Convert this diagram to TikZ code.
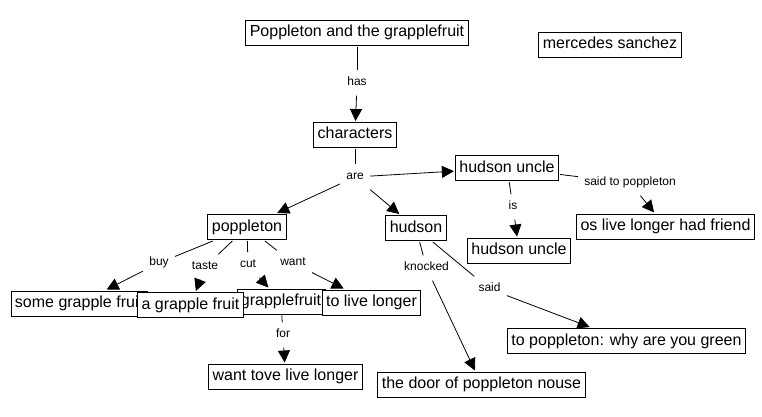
\documentclass[tikz,border=0pt]{standalone}
\usepackage{fontspec}
\setmainfont{Liberation Sans}
\usepackage{tikz}
\usetikzlibrary{arrows.meta, positioning}
\tikzset{
  concept/.style={draw, fill=white, font=\fontsize{16}{19}\selectfont,
    inner xsep=4pt, inner ysep=5pt, text height=11.5pt, text depth=3.5pt, outer sep=1.5pt},
  linkword/.style={font=\fontsize{12}{14}\selectfont,
    inner xsep=6pt, inner ysep=7pt, text height=8pt, text depth=2.5pt}
}
\begin{document}
\begin{tikzpicture}[x=1pt, y=-1pt, on grid, line width=0.8pt,
    >={Triangle[length=12pt,width=12pt]}]
    \useasboundingbox (0,0) rectangle (762,417);
    \node[concept] (title) at (357,33) {Poppleton and the grapplefruit};
    \node[concept] (author) [below right=12pt and 253pt of title] {mercedes sanchez};
    \node[linkword] (has) [below=50pt of title] {has};
    \node[concept] (characters) [below left=52pt and 2pt of has] {characters};
    \node[linkword] (are) [below=42pt of characters] {are};
    \node[concept] (hudsonuncle) [above right=9pt and 152pt of are] {hudson uncle};
    \node[concept] (poppleton) [below left=50pt and 108pt of are] {poppleton};
    \node[concept] (hudson) [below right=51pt and 61pt of are] {hudson};
    \node[linkword] (saidto) [below right=15pt and 123pt of hudsonuncle] {said to poppleton};
    \node[concept] (friend) [below right=43.5pt and 35.5pt of saidto] {os live longer had friend};
    \node[linkword] (is) [below right=39pt and 6pt of hudsonuncle] {is};
    \node[concept] (uncle) [below right=43.5pt and 6pt of is] {hudson uncle};
    \node[linkword] (knocked) [below right=40pt and 10.5pt of hudson] {knocked};
    \node[linkword] (said) [below right=61pt and 73.5pt of hudson] {said};
    \node[concept] (green) [below right=52pt and 137pt of said] {to poppleton: why are you green};
    \node[concept] (door) [below right=116.5pt and 55pt of knocked] {the door of poppleton nouse};
    \node[linkword] (buy) [below left=36pt and 88pt of poppleton] {buy};
    \node[linkword] (taste) [below left=40pt and 42pt of poppleton] {taste};
    \node[linkword] (cut) [below right=38pt and 1pt of poppleton] {cut};
    \node[linkword] (want) [below right=36pt and 46pt of poppleton] {want};
    \node[concept] (somefruit) [below left=40.5pt and 80pt of buy] {some grapple fruit};
    \node[concept] (grapplefruit) [below right=36.5pt and 33pt of cut] {grapplefruit};
    \node[concept] (afruit) [below left=38pt and 14.5pt of taste] {a grapple fruit};
    \node[concept] (livelonger) [below right=39.5pt and 78.5pt of want] {to live longer};
    \node[linkword] (for) [below right=33.5pt and 2pt of grapplefruit] {for};
    \node[concept] (tove) [below right=41.5pt and 2.5pt of for] {want tove live longer};
    \draw (title) -- (has);
    \draw[->] (has) -- (characters);
    \draw (characters) -- (are);
    \draw[->] (are) -- (hudsonuncle);
    \draw[->] (are) -- (poppleton);
    \draw[->] (are) -- (hudson);
    \draw (hudsonuncle) -- (saidto);
    \draw[->] (saidto) -- (friend);
    \draw (hudsonuncle) -- (is);
    \draw[->] (is) -- (uncle);
    \draw (hudson) -- (knocked);
    \draw[->] (knocked) -- (door);
    \draw (hudson) -- (said);
    \draw[->] (said) -- (green);
    \draw (poppleton) -- (buy);
    \draw[->] (buy) -- (somefruit);
    \draw (poppleton) -- (taste);
    \draw[->] (taste) -- (afruit);
    \draw (poppleton) -- (cut);
    \draw[->] (cut) -- (grapplefruit);
    \draw (poppleton) -- (want);
    \draw[->] (want) -- (livelonger);
    \draw (grapplefruit) -- (for);
    \draw[->] (for) -- (tove);
\end{tikzpicture}
\end{document}
